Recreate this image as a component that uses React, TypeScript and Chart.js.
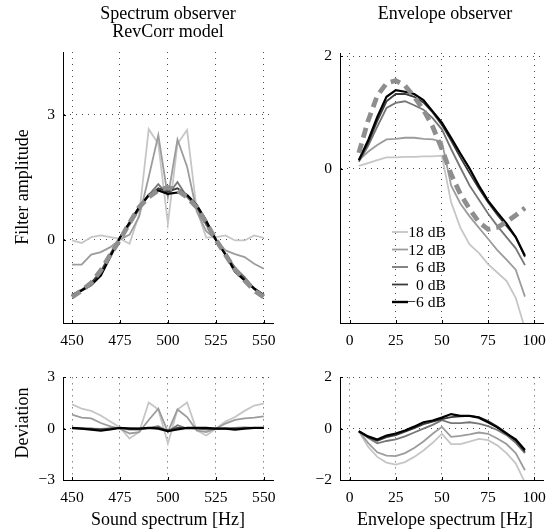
import React, { useEffect, useRef } from 'react';
import { Chart, registerables } from 'chart.js';

Chart.register(...registerables);

// ---- data ---------------------------------------------------------------
const SPEC_FREQS = [450, 455, 460, 465, 470, 475, 480, 485, 490, 495, 500, 505, 510, 515, 520, 525, 530, 535, 540, 545, 550];
const ENV_FREQS = [5, 10, 15, 20, 25, 30, 35, 40, 45, 50, 55, 60, 65, 70, 75, 80, 85, 90, 95];

const LEVELS = ['18 dB', '12 dB', '6 dB', '0 dB', '\u22126 dB'];
const LEVEL_COLORS = ['#c6c6c6', '#9c9c9c', '#767676', '#3a3a3a', '#000000'];
const MODEL_COLOR = '#8e8e8e';

const SPEC_X_TICKS = [450, 475, 500, 525, 550];
const SPEC_Y_TICKS = [0, 3];
const SPEC_DEV_Y_TICKS = [-3, 0, 3];
const ENV_X_TICKS = [0, 25, 50, 75, 100];
const ENV_Y_TICKS = [0, 2];
const ENV_DEV_Y_TICKS = [-2, 0, 2];

// spectrum observer: filter estimates per SNR level and the RevCorr model
const SPEC_18 = [-0.02, -0.08, 0.06, 0.1, 0.06, 0.02, -0.1, 0.6, 2.65, 2.3, 0.38, 2.3, 2.63, 0.72, 0.05, 0.06, 0.1, -0.02, -0.02, 0.1, 0.04];
const SPEC_12 = [-0.6, -0.6, -0.36, -0.3, -0.18, 0.0, 0.12, 0.55, 1.5, 2.5, 1.02, 2.4, 1.75, 0.68, 0.2, 0.0, -0.26, -0.35, -0.42, -0.58, -0.7];
const SPEC_6 = [-1.33, -1.2, -1.04, -0.76, -0.34, 0.05, 0.35, 0.73, 1.07, 1.33, 1.07, 1.38, 1.02, 0.78, 0.35, 0.0, -0.34, -0.67, -0.9, -1.17, -1.33];
const SPEC_0 = [-1.36, -1.22, -1.04, -0.79, -0.36, 0.05, 0.42, 0.78, 1.05, 1.23, 1.15, 1.23, 1.07, 0.8, 0.4, 0.0, -0.36, -0.72, -0.95, -1.19, -1.33];
const SPEC_M6 = [-1.33, -1.22, -1.09, -0.86, -0.41, 0.05, 0.4, 0.78, 1.07, 1.18, 1.1, 1.13, 1.07, 0.83, 0.45, 0.0, -0.36, -0.77, -0.98, -1.17, -1.33];
const SPEC_MODEL = [-1.38, -1.22, -1.04, -0.74, -0.36, 0.0, 0.4, 0.78, 1.02, 1.18, 1.25, 1.18, 1.02, 0.78, 0.4, 0.0, -0.36, -0.72, -0.98, -1.22, -1.38];

// spectrum observer: deviation from the model
const SPEC_DEV_18 = [1.42, 1.17, 1.04, 0.77, 0.42, 0.07, -0.58, -0.19, 1.53, 1.12, -0.86, 1.12, 1.53, -0.1, -0.4, 0.0, 0.42, 0.68, 1.04, 1.35, 1.47];
const SPEC_DEV_12 = [0.82, 0.65, 0.6, 0.33, 0.14, 0.0, -0.28, -0.2, 0.51, 1.17, -0.19, 1.12, 0.68, -0.1, -0.2, 0.0, 0.3, 0.51, 0.6, 0.65, 0.72];
const SPEC_DEV_6 = [0.05, 0.02, 0.0, -0.02, 0.02, 0.05, -0.05, -0.05, 0.05, 0.15, -0.18, 0.2, 0.0, 0.0, -0.05, 0.0, 0.02, 0.05, 0.08, 0.05, 0.05];
const SPEC_DEV_0 = [0.02, 0.0, 0.0, -0.05, 0.0, 0.05, 0.02, 0.0, 0.03, 0.05, -0.1, 0.05, 0.05, 0.02, 0.0, 0.0, 0.0, 0.0, 0.03, 0.03, 0.05];
const SPEC_DEV_M6 = [0.05, 0.0, -0.05, -0.12, -0.05, 0.05, 0.0, 0.0, 0.05, 0.0, -0.15, -0.05, 0.05, 0.05, 0.05, 0.0, 0.0, -0.05, 0.0, 0.05, 0.05];

// envelope observer: filter estimates per SNR level and the model
const ENV_18 = [0.05, 0.1, 0.15, 0.2, 0.2, 0.21, 0.21, 0.22, 0.22, 0.23, -0.6, -1.05, -1.35, -1.5, -1.7, -1.85, -2.0, -2.3, -2.85];
const ENV_12 = [0.15, 0.3, 0.42, 0.52, 0.53, 0.55, 0.55, 0.53, 0.52, 0.48, -0.3, -0.62, -0.85, -1.05, -1.25, -1.45, -1.62, -1.8, -2.28];
const ENV_6 = [0.12, 0.4, 0.75, 1.08, 1.17, 1.2, 1.13, 1.05, 0.9, 0.7, 0.35, 0.02, -0.3, -0.55, -0.8, -1.02, -1.22, -1.42, -1.72];
const ENV_0 = [0.15, 0.45, 0.85, 1.2, 1.33, 1.33, 1.28, 1.18, 1.0, 0.78, 0.5, 0.2, -0.08, -0.35, -0.6, -0.82, -1.02, -1.22, -1.57];
const ENV_M6 = [0.15, 0.5, 0.92, 1.28, 1.4, 1.37, 1.33, 1.22, 1.02, 0.82, 0.55, 0.27, 0.0, -0.3, -0.57, -0.78, -0.98, -1.22, -1.55];
const ENV_MODEL = [0.28, 0.85, 1.3, 1.52, 1.57, 1.48, 1.28, 1.05, 0.75, 0.35, -0.1, -0.45, -0.72, -0.95, -1.08, -1.05, -0.95, -0.83, -0.7];

// envelope observer: deviation from the model
const ENV_DEV_18 = [-0.1, -0.7, -1.1, -1.32, -1.4, -1.3, -1.1, -0.85, -0.55, -0.2, -0.6, -0.6, -0.5, -0.4, -0.45, -0.65, -0.95, -1.35, -2.1];
const ENV_DEV_12 = [-0.1, -0.55, -0.92, -1.05, -1.07, -0.95, -0.75, -0.5, -0.2, 0.07, -0.32, -0.28, -0.22, -0.15, -0.2, -0.38, -0.6, -0.95, -1.62];
const ENV_DEV_6 = [-0.1, -0.35, -0.57, -0.48, -0.42, -0.3, -0.15, 0.0, 0.15, 0.33, 0.22, 0.22, 0.25, 0.2, 0.1, -0.05, -0.25, -0.55, -0.95];
const ENV_DEV_0 = [-0.1, -0.33, -0.47, -0.33, -0.25, -0.12, 0.02, 0.18, 0.27, 0.37, 0.45, 0.48, 0.5, 0.45, 0.3, 0.08, -0.17, -0.47, -0.9];
const ENV_DEV_M6 = [-0.1, -0.3, -0.42, -0.27, -0.19, -0.07, 0.08, 0.25, 0.32, 0.43, 0.57, 0.5, 0.5, 0.43, 0.25, 0.05, -0.19, -0.42, -0.83];

// ---- drawing ------------------------------------------------------------
const FONT = 'Liberation Serif, Times New Roman, serif';
const TICK_FONT_SIZE = 15.6;
const LABEL_FONT_SIZE = 18;

const fmt = (v: number) => (v < 0 ? '\u2212' + Math.abs(v) : String(v));

type Rect = { left: number; top: number; width: number; height: number };
type Area = { left: number; top: number; right: number; bottom: number };

// short tick marks pointing into the plot from the left and bottom axes
const innerTicksPlugin = {
  id: 'innerTicks',
  afterDraw(chart: any) {
    const ctx = chart.ctx as CanvasRenderingContext2D;
    const { left, bottom } = chart.chartArea;
    const xs = chart.scales.x;
    const ys = chart.scales.y;
    ctx.save();
    ctx.strokeStyle = '#000';
    ctx.lineWidth = 1;
    ctx.beginPath();
    xs.ticks.forEach((t: any) => {
      const px = Math.round(xs.getPixelForValue(t.value)) + 0.5;
      ctx.moveTo(px, bottom);
      ctx.lineTo(px, bottom - 3);
    });
    ys.ticks.forEach((t: any) => {
      const py = Math.round(ys.getPixelForValue(t.value)) + 0.5;
      ctx.moveTo(left, py);
      ctx.lineTo(left + 3, py);
    });
    ctx.stroke();
    ctx.restore();
  },
};

const legendPlugin = {
  id: 'levelLegend',
  afterDatasetsDraw(chart: any) {
    const ctx = chart.ctx as CanvasRenderingContext2D;
    const area = chart.chartArea;
    const x0 = area.left + 52;
    const x1 = area.left + 68;
    const xText = area.left + 106;
    const y0 = area.top + 179;
    const step = 17.5;
    ctx.save();
    ctx.font = `${TICK_FONT_SIZE}px ${FONT}`;
    ctx.textAlign = 'right';
    ctx.textBaseline = 'middle';
    LEVELS.forEach((name, i) => {
      const y = y0 + i * step;
      ctx.strokeStyle = LEVEL_COLORS[i];
      ctx.lineWidth = i === 4 ? 2.4 : 1.8;
      ctx.beginPath();
      ctx.moveTo(x0, y);
      ctx.lineTo(x1, y);
      ctx.stroke();
      ctx.fillStyle = '#000';
      ctx.fillText(name, xText, y + 1);
    });
    ctx.restore();
  },
};

type PanelProps = {
  box: Rect;
  area: Area;
  xMin: number;
  xMax: number;
  xTicks: number[];
  yMin: number;
  yMax: number;
  yTicks: number[];
  xs: number[];
  series: number[][];
  model?: number[];
  legend?: boolean;
};

function Panel({ box, area, xMin, xMax, xTicks, yMin, yMax, yTicks, xs, series, model, legend }: PanelProps) {
  const ref = useRef<HTMLCanvasElement | null>(null);

  useEffect(() => {
    if (!ref.current) return;
    // 18 dB is painted first, −6 dB above it, the model curve on top
    const datasets: any[] = series.map((vals, i) => ({
      label: LEVELS[i],
      data: xs.map((x, j) => ({ x, y: vals[j] })),
      borderColor: LEVEL_COLORS[i],
      borderWidth: i === 4 ? 2.2 : 1.8,
      pointRadius: 0,
      tension: 0,
      fill: false,
      order: series.length - i,
    }));
    if (model) {
      datasets.push({
        label: 'model',
        data: xs.map((x, j) => ({ x, y: model[j] })),
        borderColor: MODEL_COLOR,
        borderWidth: 4.8,
        borderDash: [10, 6],
        pointRadius: 0,
        tension: 0,
        fill: false,
        order: 0,
      });
    }

    const tickFont = { family: FONT, size: TICK_FONT_SIZE };
    const grid = { color: '#4a4a4a', lineWidth: 1, drawTicks: false };
    const border = { display: true, color: '#000', width: 1, dash: [1, 5] };

    const plugins: any[] = [innerTicksPlugin];
    if (legend) plugins.push(legendPlugin);

    const chart = new Chart(ref.current, {
      type: 'line',
      data: { datasets },
      options: {
        animation: false,
        responsive: false,
        maintainAspectRatio: false,
        events: [],
        layout: {
          padding: {
            left: 0,
            top: area.top - box.top,
            right: box.left + box.width - area.right,
            bottom: 0,
          },
        },
        plugins: { legend: { display: false }, tooltip: { enabled: false }, title: { display: false } },
        scales: {
          x: {
            type: 'linear',
            min: xMin,
            max: xMax,
            afterBuildTicks: (s: any) => {
              s.ticks = xTicks.map((v) => ({ value: v }));
            },
            afterFit: (s: any) => {
              s.height = box.top + box.height - area.bottom;
            },
            grid,
            border,
            ticks: { color: '#000', font: tickFont, padding: 9, autoSkip: false, maxRotation: 0, callback: (v: any) => fmt(Number(v)) },
          },
          y: {
            type: 'linear',
            min: yMin,
            max: yMax,
            afterBuildTicks: (s: any) => {
              s.ticks = yTicks.map((v) => ({ value: v }));
            },
            afterFit: (s: any) => {
              s.width = area.left - box.left;
            },
            grid,
            border,
            ticks: { color: '#000', font: tickFont, padding: 8, autoSkip: false, callback: (v: any) => fmt(Number(v)) },
          },
        },
      },
      plugins,
    } as any);
    return () => chart.destroy();
  }, []);

  return (
    <canvas
      ref={ref}
      width={box.width}
      height={box.height}
      style={{ position: 'absolute', left: box.left, top: box.top, width: box.width, height: box.height }}
    />
  );
}

const labelStyle: React.CSSProperties = {
  position: 'absolute',
  fontFamily: FONT,
  fontSize: LABEL_FONT_SIZE,
  lineHeight: '20px',
  color: '#000',
  whiteSpace: 'nowrap',
};

function Label({ x, y, text, vertical }: { x: number; y: number; text: string; vertical?: boolean }) {
  return (
    <div
      style={{
        ...labelStyle,
        left: x,
        top: y,
        transform: vertical ? 'translate(-50%, -50%) rotate(-90deg)' : 'translate(-50%, -50%)',
      }}
    >
      {text}
    </div>
  );
}

export default function App() {
  return (
    <div style={{ position: 'absolute', left: 0, top: 0, width: 555, height: 531, background: '#fff', overflow: 'hidden' }}>
      <Panel
        box={{ left: 0, top: 0, width: 285, height: 360 }}
        area={{ left: 63, top: 52, right: 274, bottom: 323 }}
        xMin={445.3}
        xMax={555.2}
        xTicks={SPEC_X_TICKS}
        yMin={-2}
        yMax={4.5}
        yTicks={SPEC_Y_TICKS}
        xs={SPEC_FREQS}
        series={[SPEC_18, SPEC_12, SPEC_6, SPEC_0, SPEC_M6]}
        model={SPEC_MODEL}
      />
      <Panel
        box={{ left: 285, top: 0, width: 270, height: 360 }}
        area={{ left: 340, top: 53, right: 552, bottom: 323 }}
        xMin={-5.2}
        xMax={105}
        xTicks={ENV_X_TICKS}
        yMin={-2.75}
        yMax={2.06}
        yTicks={ENV_Y_TICKS}
        xs={ENV_FREQS}
        series={[ENV_18, ENV_12, ENV_6, ENV_0, ENV_M6]}
        model={ENV_MODEL}
        legend
      />
      <Panel
        box={{ left: 0, top: 360, width: 285, height: 171 }}
        area={{ left: 63, top: 366, right: 274, bottom: 480 }}
        xMin={445.3}
        xMax={555.2}
        xTicks={SPEC_X_TICKS}
        yMin={-3}
        yMax={3}
        yTicks={SPEC_DEV_Y_TICKS}
        xs={SPEC_FREQS}
        series={[SPEC_DEV_18, SPEC_DEV_12, SPEC_DEV_6, SPEC_DEV_0, SPEC_DEV_M6]}
      />
      <Panel
        box={{ left: 285, top: 360, width: 270, height: 171 }}
        area={{ left: 340, top: 366, right: 552, bottom: 480 }}
        xMin={-5.2}
        xMax={105}
        xTicks={ENV_X_TICKS}
        yMin={-2}
        yMax={2}
        yTicks={ENV_DEV_Y_TICKS}
        xs={ENV_FREQS}
        series={[ENV_DEV_18, ENV_DEV_12, ENV_DEV_6, ENV_DEV_0, ENV_DEV_M6]}
      />

      <Label x={168} y={13} text="Spectrum observer" />
      <Label x={168} y={31} text="RevCorr model" />
      <Label x={445} y={13} text="Envelope observer" />
      <Label x={22} y={187} text="Filter amplitude" vertical />
      <Label x={22} y={423} text="Deviation" vertical />
      <Label x={168} y={519} text="Sound spectrum [Hz]" />
      <Label x={445} y={519} text="Envelope spectrum [Hz]" />
    </div>
  );
}
